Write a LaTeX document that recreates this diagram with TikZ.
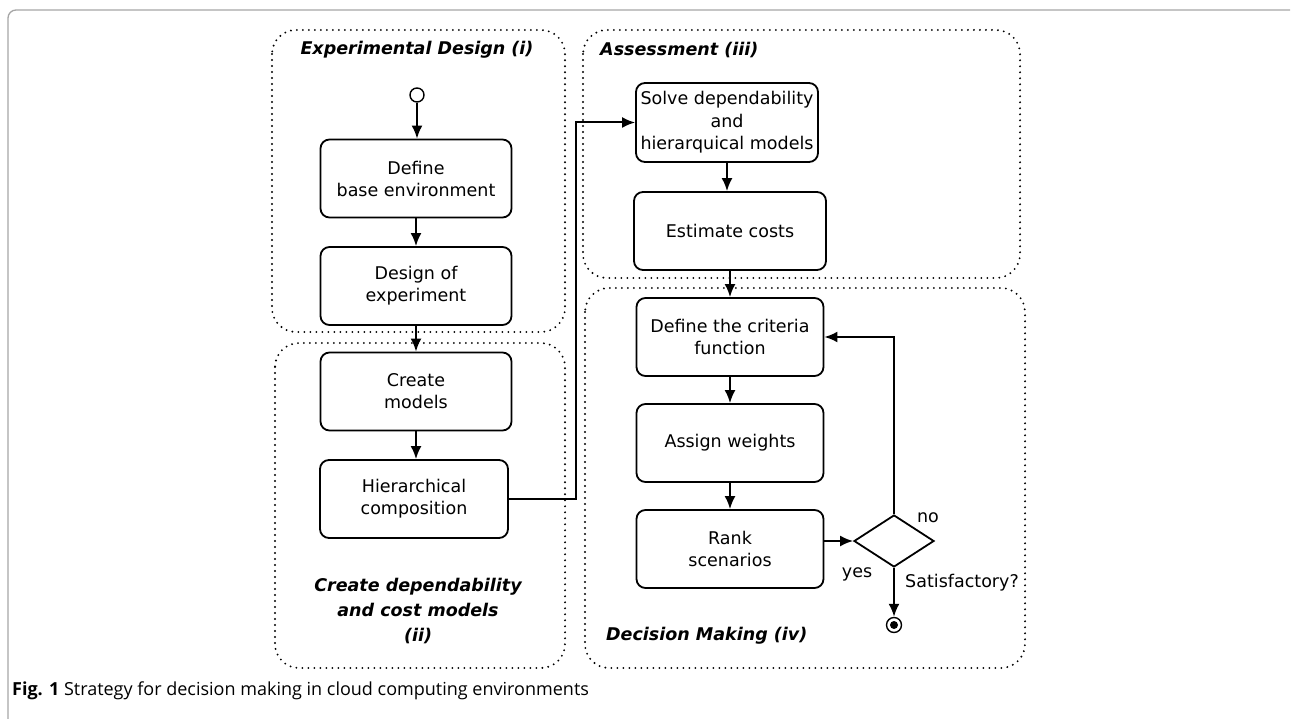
\documentclass[tikz,border=0pt]{standalone}
\usepackage{fontspec}
\setmainfont{DejaVu Sans}
\newfontfamily\capfont{Open Sans}
\usetikzlibrary{arrows.meta,shapes.geometric}

\begin{document}
\begin{tikzpicture}[x=1pt,y=-1pt,
  stepbox/.style={draw, line width=1.8pt, rounded corners=9pt, align=center,
    font=\fontsize{17.5}{22}\selectfont, inner sep=0pt,
    minimum width=191pt, minimum height=78pt},
  region/.style={line width=2.1pt, line cap=round, dash pattern=on 0pt off 6pt,
    rounded corners=24pt},
  regiontitle/.style={font=\fontsize{17.5}{25}\selectfont\bfseries\itshape, inner sep=0pt, align=center},
  plain/.style={font=\fontsize{17.5}{22}\selectfont, inner sep=0pt},
  arr/.style={line width=2pt, -{Latex[length=13pt,width=11pt]}},
  decision/.style={draw, diamond, line width=1.8pt, inner sep=0pt,
    minimum width=80pt, minimum height=52pt},
]
\useasboundingbox (0,0) rectangle (1292,719);

% page frame
\draw[gray!70, line width=1.3pt, rounded corners=8pt] (8,720) -- (8,10) -- (1290,10);

% regions
\draw[region] (272,30) rectangle (565,332);
\draw[region] (275,343) rectangle (565,668);
\draw[region] (583,30) rectangle (1020,278);
\draw[region] (585,288) rectangle (1025,668);

\node[regiontitle] (t1) at (417,50) {Experimental Design (i)};
\node[regiontitle] (t2) at (418,611) {Create dependability\\and cost models\\(ii)};
\node[regiontitle, anchor=west] (t3) at (600,50) {Assessment (iii)};
\node[regiontitle, anchor=west] (t4) at (606,636) {Decision Making (iv)};

% steps
\node[draw, circle, line width=1.4pt, minimum size=14pt, inner sep=0pt] (start) at (417,95) {};
\node[stepbox] (base) at (416,178.5) {Define\\base environment};
\node[stepbox] (doe) at (416,286) {Design of\\experiment};
\node[stepbox] (models) at (416,391.5) {Create\\models};
\node[stepbox, minimum width=188pt] (hier) at (414,499) {Hierarchical\\composition};
\node[stepbox, minimum width=182pt, minimum height=79pt, font=\fontsize{17.5}{22.5}\selectfont] (solve) at (727,122.5) {Solve dependability\\and\\hierarquical models};
\node[stepbox, minimum width=192pt] (cost) at (730,231) {Estimate costs};
\node[stepbox, minimum width=187pt] (crit) at (730,337) {Define the criteria\\function};
\node[stepbox, minimum width=187pt] (weights) at (730,443) {Assign weights};
\node[stepbox, minimum width=187pt] (rank) at (730,549) {Rank\\scenarios};
\node[decision] (dec) at (894,541) {};
\node[draw, circle, line width=1.4pt, minimum size=15pt, inner sep=0pt] (stop) at (894,625) {};
\fill (stop.center) circle (4pt);

\coordinate (jog) at (576,0);

% connectors
\draw[arr] (start) -- (start |- base.north);
\draw[arr] (base) -- (doe);
\draw[arr] (doe) -- (models);
\draw[arr] (models) -- (models |- hier.north);
\draw[arr] (hier.east) -- (hier.east -| jog) -- (jog |- solve.west) -- (solve.west);
\draw[arr] (solve) -- (solve |- cost.north);
\draw[arr] (cost) -- (cost |- crit.north);
\draw[arr] (crit) -- (weights);
\draw[arr] (weights) -- (rank);
\draw[arr] (dec.west -| rank.east) -- (dec.west);
\draw[arr] (dec.north) -- (dec.north |- crit.east) -- (crit.east);
\draw[arr] (dec.south) -- (stop.north);

\node[plain] (no) at (928,518) {no};
\node[plain] (yes) at (857,574) {yes};
\node[plain] (sat) at (962,583) {Satisfactory?};

% caption
\node[anchor=west, inner sep=0pt, font=\capfont\fontsize{18}{22}\selectfont] (cap) at (12,691)
  {\textbf{Fig. 1} Strategy for decision making in cloud computing environments};
\end{tikzpicture}
\end{document}
